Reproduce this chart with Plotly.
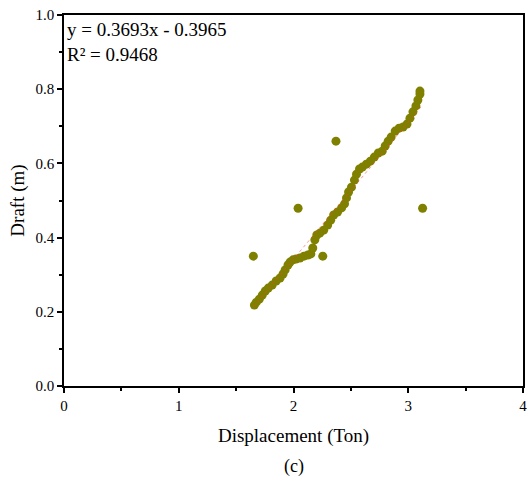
import plotly.graph_objects as go

# Displacement (Ton) and Draft (m) measured points
displacement = [1.659, 1.676, 1.702, 1.728, 1.754, 1.780, 1.814, 1.849, 1.883, 1.909,
                1.927, 1.952, 1.970, 1.996, 2.022, 2.056, 2.091, 2.125, 2.151, 2.168,
                2.186, 2.203, 2.229, 2.263, 2.298, 2.324, 2.350, 2.384, 2.419, 2.445,
                2.462, 2.480, 2.505, 2.531, 2.549, 2.575, 2.600, 2.635, 2.670, 2.704,
                2.739, 2.773, 2.799, 2.825, 2.851, 2.886, 2.920, 2.955, 2.989, 3.015,
                3.041, 3.067, 3.084, 3.102, 3.102]
draft = [0.218, 0.226, 0.234, 0.245, 0.256, 0.264, 0.272, 0.283, 0.291, 0.302,
         0.313, 0.326, 0.334, 0.340, 0.342, 0.345, 0.350, 0.353, 0.356, 0.372,
         0.394, 0.407, 0.412, 0.420, 0.434, 0.447, 0.461, 0.469, 0.480, 0.491,
         0.507, 0.523, 0.536, 0.555, 0.571, 0.585, 0.590, 0.598, 0.606, 0.617,
         0.628, 0.633, 0.647, 0.660, 0.671, 0.687, 0.695, 0.698, 0.706, 0.722,
         0.739, 0.755, 0.771, 0.787, 0.795]
outlier_x = [1.65, 2.04, 2.255, 2.37, 3.125]
outlier_y = [0.35, 0.479, 0.35, 0.66, 0.479]

slope = 0.3693
intercept = -0.3965
r2 = 0.9468

xs = displacement + outlier_x
ys = draft + outlier_y

fit_x = [min(xs), max(xs)]
fit_y = [slope * v + intercept for v in fit_x]

font = "Liberation Serif, Times New Roman, serif"
olive = "#808000"

fig = go.Figure()
fig.add_trace(go.Scatter(x=xs, y=ys, mode="markers",
                         marker=dict(size=9, color=olive, line=dict(width=0)),
                         showlegend=False))
fig.add_trace(go.Scatter(x=fit_x, y=fit_y, mode="lines",
                         line=dict(color="rgba(255,60,60,0.55)", width=1, dash="dot"),
                         showlegend=False))

axis_common = dict(showgrid=False, zeroline=False, showline=True, linecolor="black",
                   linewidth=1.5, mirror=True, ticks="outside", ticklen=5, tickwidth=1.5,
                   tickcolor="black", ticklabeloverflow="allow",
                   tickfont=dict(family=font, size=15, color="black"))

fig.update_xaxes(range=[0, 4], tickvals=[0, 1, 2, 3, 4],
                 minor=dict(ticks="outside", ticklen=3, tickwidth=1.5, tickcolor="black",
                            dtick=0.5, tick0=0),
                 title=dict(text="Displacement (Ton)", font=dict(family=font, size=19, color="black"),
                            standoff=16),
                 **axis_common)
fig.update_yaxes(range=[0, 1.0], tickvals=[0, 0.2, 0.4, 0.6, 0.8, 1.0], tickformat=".1f",
                 minor=dict(ticks="outside", ticklen=3, tickwidth=1.5, tickcolor="black",
                            dtick=0.1, tick0=0),
                 title=dict(text="Draft (m)", font=dict(family=font, size=19, color="black"),
                            standoff=6),
                 **axis_common)

fig.add_annotation(x=0, y=1, xref="paper", yref="paper", xanchor="left", yanchor="top",
                   xshift=1, yshift=-2, align="left", showarrow=False,
                   text=f"y = {slope}x - {abs(intercept)}<br>R² = {r2}",
                   font=dict(family=font, size=19, color="black"))
fig.add_annotation(x=0.5, y=-0.216, xref="paper", yref="paper", showarrow=False,
                   yanchor="middle", text="(c)", font=dict(family=font, size=18, color="black"))

fig.update_layout(width=528, height=479, margin=dict(l=64, r=1, t=15, b=93),
                  plot_bgcolor="white", paper_bgcolor="white")

fig.write_html("out.html")
